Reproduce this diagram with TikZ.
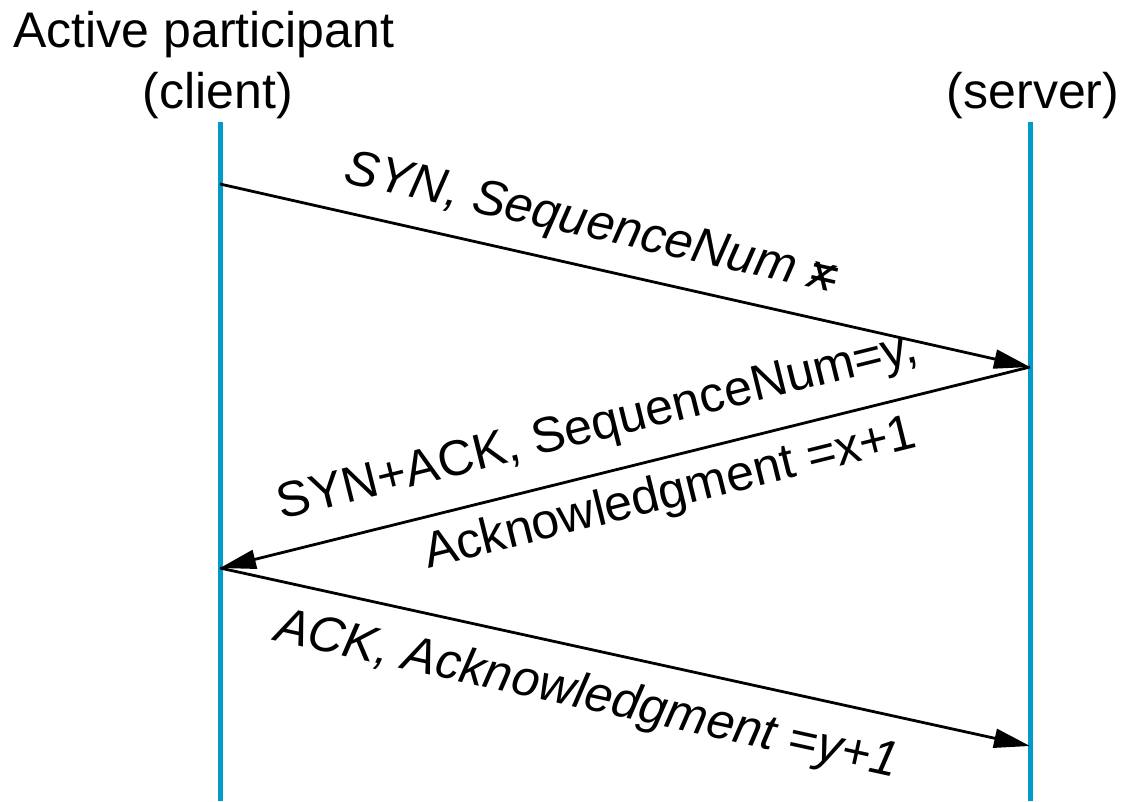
\documentclass[tikz,border=0pt]{standalone}
\usepackage{fontspec}
\setmainfont{Liberation Sans}
\usetikzlibrary{arrows.meta}
\definecolor{lifeblue}{RGB}{0,155,200}
\begin{document}
\begin{tikzpicture}[x=1pt,y=-1pt,
  lifeline/.style={draw=lifeblue,line width=5pt},
  msg/.style={draw=black,line width=2.8pt,-{Triangle[length=36pt,width=19pt]}},
  txt/.style={font=\fontsize{50}{60}\selectfont,inner sep=0pt},
  itxt/.style={txt,font=\fontsize{50}{60}\selectfont\itshape}]
\useasboundingbox (0,0) rectangle (1122,801);

% lifelines
\coordinate (ctop) at (220,122);
\coordinate (cbot) at (220,801);
\coordinate (stop) at (1030,122);
\coordinate (sbot) at (1030,801);
\draw[lifeline] (ctop) -- (cbot);
\draw[lifeline] (stop) -- (sbot);

% participant headings
\node[txt,anchor=base] (hact) at (204,47) {Active participant};
\node[txt,anchor=base] (hcli) at (218,108) {(client)};
\node[txt,anchor=base] (hsrv) at (1033,108) {(server)};

% message end points
\coordinate (c1) at (220,184);
\coordinate (s1) at (1030,367);
\coordinate (c2) at (220,568);
\coordinate (s2) at (1030,746);

% SYN
\draw[msg] (c1) -- (s1)
  node[itxt,pos=0.445,sloped,above=17pt] (l1) {SYN, SequenceNum \rlap{=}x};
% SYN+ACK
\draw[msg] (s1) -- (c2);
\path (c2) -- (s1)
  node[txt,pos=0.48,sloped,above=22pt] (l2a) {SYN+ACK, SequenceNum=y,}
  node[txt,pos=0.545,sloped,below=14pt] (l2b) {Acknowledgment =x+1};
% ACK
\draw[msg] (c2) -- (s2)
  node[itxt,pos=0.465,sloped,below=22pt] (l3) {ACK, Acknowledgment =y+1};
\end{tikzpicture}
\end{document}
